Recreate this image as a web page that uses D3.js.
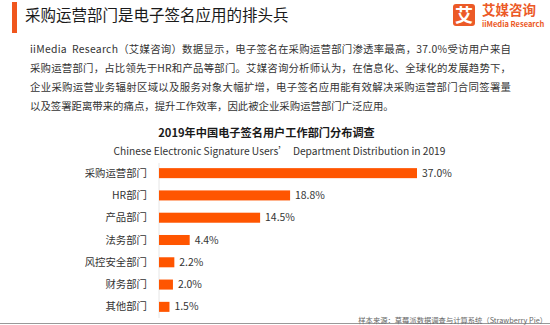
<!DOCTYPE html>
<html lang="zh">
<head>
  <meta charset="UTF-8">
  <title>采购运营部门是电子签名应用的排头兵</title>
  <script src="https://d3js.org/d3.v7.min.js"></script>
  <style>
    body { margin: 0; background: #fff; }
    svg { display: block; font-family: "Noto Sans CJK SC", "Noto Sans", sans-serif; }
  </style>
</head>
<body>
  <svg width="550" height="325"></svg>

  <script>
    // data
    const categories = ['采购运营部门', 'HR部门', '产品部门', '法务部门', '风控安全部门', '财务部门', '其他部门'];
    const values = [37.0, 18.8, 14.5, 4.4, 2.2, 2.0, 1.5];

    const pageTitle = '采购运营部门是电子签名应用的排头兵';
    const paragraph = [
      'iiMedia  Research（艾媒咨询）数据显示，电子签名在采购运营部门渗透率最高，37.0%受访用户来自',
      '采购运营部门，占比领先于HR和产品等部门。艾媒咨询分析师认为，在信息化、全球化的发展趋势下，',
      '企业采购运营业务辐射区域以及服务对象大幅扩增，电子签名应用能有效解决采购运营部门合同签署量',
      '以及签署距离带来的痛点，提升工作效率，因此被企业采购运营部门广泛应用。'
    ];
    const chartTitle = '2019年中国电子签名用户工作部门分布调查';
    const chartSubtitle = 'Chinese Electronic Signature Users’  Department Distribution in 2019';
    const source = '样本来源：草莓派数据调查与计算系统（Strawberry Pie）';

    const orange = '#ff5500';
    const svg = d3.select('svg');

    // header
    svg.append('rect')
      .attr('x', 12).attr('y', 2).attr('width', 5).attr('height', 31)
      .attr('fill', '#f0561d');
    svg.append('text')
      .attr('x', 25).attr('y', 16).attr('dy', '0.35em')
      .attr('font-size', 15.5).attr('fill', '#1a1a1a')
      .text(pageTitle);

    // logo
    const logo = svg.append('g');
    logo.append('rect')
      .attr('x', 453).attr('y', 4).attr('width', 22).attr('height', 22).attr('rx', 3)
      .attr('fill', '#ec5a27');
    logo.append('text')
      .attr('x', 464).attr('y', 15.5).attr('dy', '0.35em')
      .attr('text-anchor', 'middle').attr('font-size', 18).attr('font-weight', 700)
      .attr('fill', '#fff').text('艾');
    logo.append('text')
      .attr('x', 482).attr('y', 10).attr('dy', '0.35em')
      .attr('font-size', 13.5).attr('font-weight', 700).attr('fill', '#ec5a27')
      .text('艾媒咨询');
    logo.append('text')
      .attr('x', 482).attr('y', 24.5).attr('dy', '0.35em')
      .attr('font-size', 7.5).attr('font-weight', 700).attr('fill', '#ec5a27')
      .text('iiMedia Research');

    // paragraph
    svg.append('g').selectAll('text')
      .data(paragraph)
      .join('text')
      .attr('x', 30)
      .attr('y', (_, i) => 49 + i * 19.2)
      .attr('dy', '0.35em')
      .attr('font-size', 10.4)
      .attr('fill', '#333')
      .attr('xml:space', 'preserve')
      .each(function (d, i) {
        if (i < paragraph.length - 1) {
          d3.select(this).attr('textLength', 481).attr('lengthAdjust', 'spacing');
        }
      })
      .text(d => d);

    // chart titles
    svg.append('text')
      .attr('x', 266.5).attr('y', 133).attr('dy', '0.35em')
      .attr('text-anchor', 'middle').attr('font-size', 11.2).attr('font-weight', 700)
      .attr('fill', '#1a1a1a').text(chartTitle);
    svg.append('text')
      .attr('x', 279.5).attr('y', 151).attr('dy', '0.35em')
      .attr('text-anchor', 'middle').attr('font-size', 10.2)
      .attr('fill', '#333').attr('xml:space', 'preserve')
      .text(chartSubtitle);

    // scales
    const x = d3.scaleLinear()
      .domain([0, d3.max(values)])
      .range([159, 417]);
    const y = d3.scaleBand()
      .domain(categories)
      .range([162, 318])
      .paddingInner(0.55)
      .paddingOuter(0.275);

    // axis line
    svg.append('line')
      .attr('x1', x(0)).attr('x2', x(0))
      .attr('y1', 163).attr('y2', 318)
      .attr('stroke', '#e6e6e6').attr('stroke-width', 1);

    // bars
    svg.append('g').selectAll('rect')
      .data(values)
      .join('rect')
      .attr('x', x(0))
      .attr('y', (_, i) => y(categories[i]))
      .attr('width', d => x(d) - x(0))
      .attr('height', y.bandwidth())
      .attr('fill', orange);

    // category labels
    svg.append('g').selectAll('text')
      .data(categories)
      .join('text')
      .attr('x', 147)
      .attr('y', d => y(d) + y.bandwidth() / 2)
      .attr('dy', '0.35em')
      .attr('text-anchor', 'end')
      .attr('font-size', 10.4)
      .attr('fill', '#333')
      .text(d => d);

    // value labels
    svg.append('g').selectAll('text')
      .data(values)
      .join('text')
      .attr('x', d => x(d) + 5)
      .attr('y', (_, i) => y(categories[i]) + y.bandwidth() / 2)
      .attr('dy', '0.35em')
      .attr('font-size', 10.4)
      .attr('fill', '#333')
      .text(d => d.toFixed(1) + '%');

    // footer
    svg.append('line')
      .attr('x1', 0).attr('x2', 550)
      .attr('y1', 323.5).attr('y2', 323.5)
      .attr('stroke', '#999').attr('stroke-width', 1);
    svg.append('text')
      .attr('x', 547).attr('y', 322.5)
      .attr('text-anchor', 'end')
      .attr('font-size', 7.3)
      .attr('fill', '#666')
      .text(source);
  </script>
</body>
</html>
